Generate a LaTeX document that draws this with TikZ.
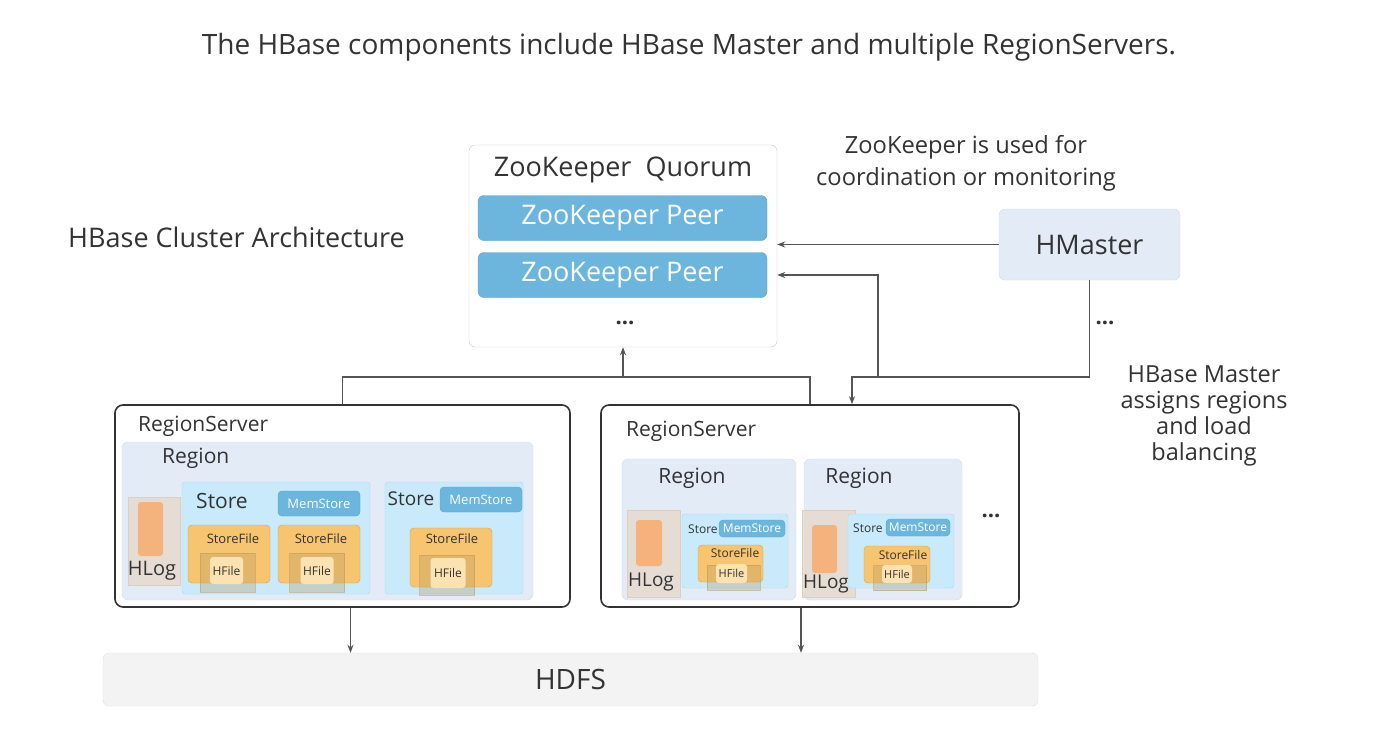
\documentclass[tikz,border=0pt]{standalone}
\usepackage{fontspec}
\setmainfont{Open Sans}
\usepackage{tikz}
\usetikzlibrary{positioning, arrows.meta}
\definecolor{linegray}{HTML}{555555}
\definecolor{peerblue}{HTML}{6CB6DE}
\definecolor{peerline}{HTML}{5AA3CC}
\definecolor{paleblue}{HTML}{E3EBF7}
\definecolor{paleline}{HTML}{CFDCEE}
\definecolor{storecyan}{HTML}{C9EAFA}
\definecolor{storeline}{HTML}{AAD9F0}
\definecolor{sforange}{HTML}{F7C56F}
\definecolor{sfline}{HTML}{D6A24A}
\definecolor{hfcream}{HTML}{FCE2B0}
\definecolor{hlogbeige}{HTML}{E6D8C6}
\definecolor{hlogorange}{HTML}{F4B27C}
\definecolor{hdfsgray}{HTML}{F3F3F3}
\definecolor{txtgray}{HTML}{333333}
\newcommand{\fsz}[2]{\fontsize{#1}{#2}\selectfont}
\tikzset{
	block/.style = {draw, rectangle, inner sep=0pt, rounded corners=6pt},
	arrow/.style = {-{Stealth[length=8pt,width=6pt]}, draw=linegray, line width=1.5pt}
}

\begin{document}
\begin{tikzpicture}[x=1pt, y=-1pt,
			label/.style={text=txtgray, inner sep=0pt},
			peer/.style={block, draw=peerline, fill=peerblue, text=white, minimum width=289pt, minimum height=45pt, font=\fsz{27}{32}},
			rsbox/.style={block, draw=txtgray, line width=1.6pt, fill=white, rounded corners=8pt, minimum height=202pt},
			regionbox/.style={block, draw=paleline, fill=paleblue},
			storebox/.style={block, draw=storeline, fill=storecyan, rounded corners=3pt},
			memstore/.style={block, draw=peerline, fill=peerblue, text=white, rounded corners=4pt},
			sfbox/.style={block, draw=sfline, fill=sforange, rounded corners=4pt},
			sfbase/.style={rectangle, draw=sfline!70!gray, fill=sfline!60!gray, fill opacity=0.3, draw opacity=0.5, inner sep=0pt},
			hfile/.style={block, fill=hfcream, draw=none, rounded corners=3pt, text=txtgray},
			hlogbox/.style={rectangle, draw=hlogbeige!90!gray, fill=hlogbeige, fill opacity=0.7, inner sep=0pt},
			hlogbar/.style={block, fill=hlogorange, draw=none, rounded corners=3pt}
			]
			\useasboundingbox (0,0) rectangle (1394,744);

			% titles and notes
			\node[label, font=\fsz{28}{33}] (title) at (689,47) {The HBase components include HBase Master and multiple RegionServers.};
			\node[label, font=\fsz{27}{32}, anchor=west] (cluster) at (68,237) {HBase Cluster Architecture};
			\node[label, font=\fsz{23.7}{32}, align=center] (zknote) at (966,163) {ZooKeeper is used for\\coordination or monitoring};
			\node[label, font=\fsz{23.5}{26}, align=center] (hmnote) at (1204,416) {HBase Master\\assigns regions\\and load\\balancing};

			% ZooKeeper
			\node[block, draw=gray!45, fill=white, minimum width=308pt, minimum height=202pt] (zk) at (623,246) {};
			\node[label, font=\fsz{27}{32}] (zktitle) at (623,170) {ZooKeeper\ \ Quorum};
			\node[peer] (peer1) at (622.5,218) {ZooKeeper Peer};
			\node[peer] (peer2) at (622.5,275) {ZooKeeper Peer};
			\node[label, font=\fsz{22}{26}\bfseries] (zkdots) at (625,323) {...};

			% HMaster
			\node[regionbox, minimum width=181pt, minimum height=71pt, font=\fsz{27}{32}, text=txtgray] (hm) at (1089.5,244.5) {HMaster};
			\node[label, font=\fsz{22}{26}\bfseries] (hmdots) at (1105,323) {...};

			% RegionServer 1
			\node[rsbox, minimum width=455pt] (rs1) at (342.5,506) {};
			\node[label, font=\fsz{21}{25}, anchor=west] (rs1lbl) at (138,426) {RegionServer};
			\node[regionbox, minimum width=411pt, minimum height=158pt] (r1) at (327.5,521) {};
			\node[label, font=\fsz{21}{25}, anchor=west] (r1lbl) at (162,458) {Region};
			\node[hlogbox, minimum width=52pt, minimum height=88pt] (hl1) at (154,541) {};
			\node[hlogbar, minimum width=25pt, minimum height=54pt] (hl1bar) at (150.5,529) {};
			\node[label, font=\fsz{20}{24}] (hl1lbl) at (152,571) {HLog};
			% Store A
			\node[storebox, minimum width=188pt, minimum height=112pt] (s1) at (276,538) {};
			\node[label, font=\fsz{21}{25}] (s1lbl) at (222,501) {Store};
			\node[memstore, minimum width=82pt, minimum height=25pt, font=\fsz{13}{16}] (m1) at (319,503.5) {MemStore};
			\node[sfbox, minimum width=82pt, minimum height=58pt] (sf1) at (229,554) {};
			\node[sfbase, minimum width=55pt, minimum height=39pt] (sf1b) at (227.5,572.5) {};
			\node[label, font=\fsz{13}{16}] (sf1lbl) at (233,539) {StoreFile};
			\node[hfile, minimum width=33pt, minimum height=27pt, font=\fsz{12}{14}] (hf1) at (226.5,570.5) {HFile};
			\node[sfbox, minimum width=82pt, minimum height=58pt] (sf2) at (319,554) {};
			\node[sfbase, minimum width=55pt, minimum height=39pt] (sf2b) at (317,572.5) {};
			\node[label, font=\fsz{13}{16}] (sf2lbl) at (321,539) {StoreFile};
			\node[hfile, minimum width=33pt, minimum height=27pt, font=\fsz{12}{14}] (hf2) at (317,570.5) {HFile};
			% Store B
			\node[storebox, minimum width=138pt, minimum height=112pt] (s2) at (454,538) {};
			\node[label, font=\fsz{19}{23}] (s2lbl) at (411,499) {Store};
			\node[memstore, minimum width=82pt, minimum height=25pt, font=\fsz{13}{16}] (m2) at (481,499.5) {MemStore};
			\node[sfbox, minimum width=82pt, minimum height=59pt] (sf3) at (451,557.5) {};
			\node[sfbase, minimum width=55pt, minimum height=40pt] (sf3b) at (447,575) {};
			\node[label, font=\fsz{13}{16}] (sf3lbl) at (452,539) {StoreFile};
			\node[hfile, minimum width=35pt, minimum height=30pt, font=\fsz{12}{14}] (hf3) at (448,573) {HFile};

			% RegionServer 2
			\node[rsbox, minimum width=418pt] (rs2) at (810,506) {};
			\node[label, font=\fsz{21}{25}, anchor=west] (rs2lbl) at (626,431) {RegionServer};
			% Region A
			\node[regionbox, minimum width=174pt, minimum height=141pt] (r2) at (709,529.5) {};
			\node[label, font=\fsz{21}{25}] (r2lbl) at (692,478) {Region};
			\node[hlogbox, minimum width=53pt, minimum height=87pt] (hl2) at (653.5,553.5) {};
			\node[hlogbar, minimum width=26pt, minimum height=46pt] (hl2bar) at (649,543) {};
			\node[label, font=\fsz{19}{23}] (hl2lbl) at (651,582) {HLog};
			\node[storebox, minimum width=106pt, minimum height=74pt] (s3) at (735,551) {};
			\node[label, font=\fsz{12}{14}, anchor=west] (s3lbl) at (688,529) {Store};
			\node[memstore, minimum width=66pt, minimum height=17pt, font=\fsz{12}{14}] (m3) at (752,528.5) {MemStore};
			\node[sfbox, minimum width=65pt, minimum height=37pt] (sf4) at (730.5,563.5) {};
			\node[sfbase, minimum width=53pt, minimum height=25pt] (sf4b) at (733.5,577.5) {};
			\node[label, font=\fsz{12}{14}] (sf4lbl) at (735,553) {StoreFile};
			\node[hfile, minimum width=31pt, minimum height=19pt, font=\fsz{11}{13}] (hf4) at (731.5,573.5) {HFile};
			% Region B
			\node[regionbox, minimum width=158pt, minimum height=141pt] (r3) at (883,529.5) {};
			\node[label, font=\fsz{21}{25}] (r3lbl) at (859,478) {Region};
			\node[hlogbox, minimum width=53pt, minimum height=87pt] (hl3) at (828.5,553.5) {};
			\node[hlogbar, minimum width=25pt, minimum height=48pt] (hl3bar) at (824.5,549) {};
			\node[label, font=\fsz{19}{23}] (hl3lbl) at (826,584) {HLog};
			\node[storebox, minimum width=106pt, minimum height=74pt] (s4) at (901,551) {};
			\node[label, font=\fsz{12}{14}, anchor=west] (s4lbl) at (853,528) {Store};
			\node[memstore, minimum width=64pt, minimum height=17pt, font=\fsz{12}{14}] (m4) at (918,527.5) {MemStore};
			\node[sfbox, minimum width=66pt, minimum height=37pt] (sf5) at (897,564.5) {};
			\node[sfbase, minimum width=53pt, minimum height=25pt] (sf5b) at (900,578) {};
			\node[label, font=\fsz{12}{14}] (sf5lbl) at (903,555) {StoreFile};
			\node[hfile, minimum width=30pt, minimum height=18pt, font=\fsz{11}{13}] (hf5) at (897,574) {HFile};
			\node[label, font=\fsz{22}{26}\bfseries] (rsdots) at (991,516) {...};

			% HDFS
			\node[block, draw=gray!25, fill=hdfsgray, minimum width=935pt, minimum height=53pt, font=\fsz{28}{33}, text=txtgray] (hdfs) at (570.5,679.5) {HDFS};

			% connectors
			\coordinate (bus) at (623,377);
			\draw[linegray, line width=1.5pt] (rs1.north) |- (bus) -| (rs2.north);
			\draw[arrow] (bus) -- (zk.south);
			\draw[arrow] (hm.west) -- (zk.east |- hm.west);
			\coordinate (j1) at (878,377);
			\draw[arrow] (j1) |- (zk.east |- peer2.east);
			\draw[arrow] (hm.south) |- (j1) -| ([xshift=42pt]rs2.north);
			\draw[arrow] ([xshift=8pt]rs1.south) -- ([xshift=8pt]rs1.south |- hdfs.north);
			\draw[arrow] ([xshift=-9pt]rs2.south) -- ([xshift=-9pt]rs2.south |- hdfs.north);
		\end{tikzpicture}
\end{document}
